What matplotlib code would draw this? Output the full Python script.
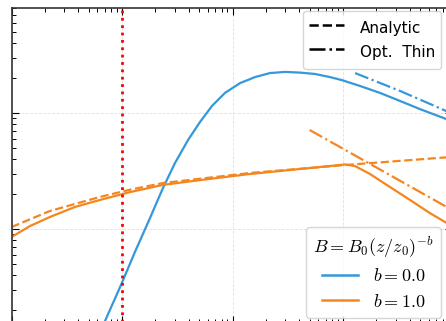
import numpy as np
import matplotlib
matplotlib.use("Agg")
import matplotlib.pyplot as plt
from matplotlib.lines import Line2D

plt.rcParams['mathtext.fontset'] = 'cm'
plt.rcParams['font.family'] = ['DejaVu Sans']

# b = 0.0 (blue)
x_b0 = [6, 7.02, 9.79, 13.1, 17.9, 23.5, 30.2, 39.6, 50.8, 65.2, 85.5, 117, 160, 218, 299,
        408, 558, 762, 979, 1425, 2163, 3281, 4978, 9683]
y_b0 = [0.011, 0.0161, 0.0329, 0.0634, 0.124, 0.226, 0.371, 0.585, 0.836, 1.15, 1.49, 1.81,
        2.04, 2.21, 2.26, 2.23, 2.17, 2.04, 1.92, 1.71, 1.49, 1.27, 1.08, 0.85]
x_b0_thin = [1285, 3281, 9683]
y_b0_thin = [2.21, 1.55, 0.99]

# b = 1.0 (orange)
x_b1 = [1.0, 1.47, 2.23, 3.76, 6.32, 11.8, 23.5, 50.8, 144, 408, 762, 1042, 1285, 1754,
        2663, 4039, 6124, 9683]
y_b1 = [0.0853, 0.106, 0.127, 0.155, 0.178, 0.208, 0.240, 0.264, 0.298, 0.329, 0.349,
        0.360, 0.349, 0.298, 0.230, 0.178, 0.137, 0.106]
x_b1_analytic = [1.0, 2.23, 6.32, 11.8, 23.5, 144, 1042, 9683]
y_b1_analytic = [0.104, 0.143, 0.189, 0.218, 0.249, 0.304, 0.356, 0.418]
x_b1_thin = [500, 9683]
y_b1_thin = [0.713, 0.146]

x_mark = 10

blue = '#3498db'
orange = '#f5861f'

fig = plt.figure(figsize=(4.46, 3.21), dpi=100)
W, H = 446, 321
ax = fig.add_axes([11.5 / W, (H - 323) / H, 440.5 / W, 315 / H])

ax.plot(x_b0, y_b0, color=blue, lw=1.6)
ax.plot(x_b0_thin, y_b0_thin, color=blue, lw=1.6, ls='-.')
ax.plot(x_b1, y_b1, color=orange, lw=1.6)
ax.plot(x_b1_analytic, y_b1_analytic, color=orange, lw=1.6, ls='--')
ax.plot(x_b1_thin, y_b1_thin, color=orange, lw=1.6, ls='-.')
ax.axvline(x_mark, color='red', ls=':', lw=2)

ax.set_xscale('log')
ax.set_yscale('log')
ax.set_xlim(1, 10 ** (440.5 / 110.5))
ax.set_ylim(10 ** ((113 - 323) / 116), 10 ** ((113 - 8) / 116))
ax.grid(True, which='major', ls='--', color='0.88', lw=0.6)
ax.tick_params(which='both', direction='in', top=True, right=True,
               labelbottom=False, labelleft=False)
ax.tick_params(which='major', length=5, width=0.8)
ax.tick_params(which='minor', length=3, width=0.7)
for s in ax.spines.values():
    s.set_color('#333333')
    s.set_linewidth(1.2)

h1 = [Line2D([], [], color='k', ls='--', lw=1.8),
      Line2D([], [], color='k', ls='-.', lw=1.8)]
leg1 = ax.legend(h1, ['Analytic', 'Opt.  Thin'], loc='upper right', fontsize=11,
                 handlelength=2.3, handletextpad=1.0, handleheight=1.8, labelspacing=0.15,
                 bbox_to_anchor=(441 / W, (H - 11) / H), bbox_transform=fig.transFigure,
                 borderaxespad=0)
ax.add_artist(leg1)

h2 = [Line2D([], [], color=blue, lw=1.8), Line2D([], [], color=orange, lw=1.8)]
ax.legend(h2, ['$b = 0.0$', '$b = 1.0$'], title='$B = B_0(z/z_0)^{-b}$',
          loc='lower right', fontsize=13, title_fontsize=13, handlelength=2.0,
          labelspacing=0.42, borderpad=0.4,
          bbox_to_anchor=(441 / W, 3 / H), bbox_transform=fig.transFigure,
          borderaxespad=0)

fig.savefig('out.png', dpi=100)
